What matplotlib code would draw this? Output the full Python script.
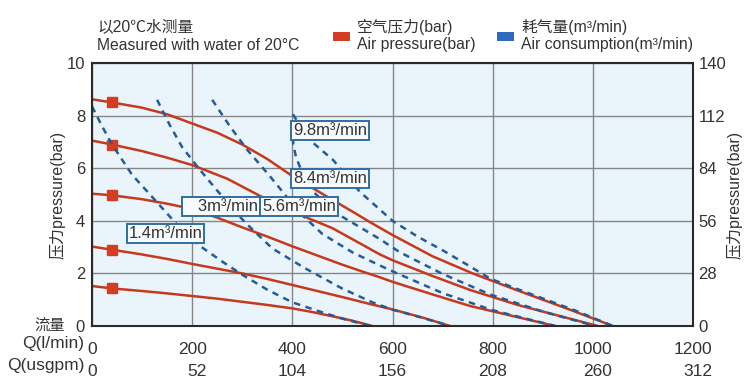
import matplotlib
matplotlib.use("Agg")
import matplotlib.pyplot as plt
from matplotlib.patches import Rectangle

plt.rcParams['font.family'] = ['Liberation Sans', 'Noto Sans CJK SC', 'DejaVu Sans']

# ---------------- data ----------------
flow_lmin = [0, 200, 400, 600, 800, 1000, 1200]
flow_usgpm = [0, 52, 104, 156, 208, 260, 312]
pressure_ticks = [0, 2, 4, 6, 8, 10]
right_ticks = [0, 28, 56, 84, 112, 140]

# air pressure curves (solid red)
p86_x = [0, 40, 100, 150, 200, 250, 300, 350, 400, 440, 480, 520, 555, 600, 680, 760, 850, 950, 1040]
p86_y = [8.62, 8.5, 8.3, 8.05, 7.7, 7.35, 6.9, 6.35, 5.7, 5.25, 4.8, 4.35, 3.95, 3.46, 2.65, 2.0, 1.35, 0.65, 0]
p7_x = [0, 40, 100, 150, 200, 270, 335, 400, 480, 575, 600, 680, 755, 850, 930, 1010]
p7_y = [7.05, 6.9, 6.65, 6.4, 6.12, 5.6, 4.95, 4.35, 3.72, 2.72, 2.5, 1.9, 1.37, 0.8, 0.4, 0]
p5_x = [0, 40, 100, 150, 200, 250, 300, 350, 400, 450, 500, 540, 575, 600, 680, 755, 840, 925]
p5_y = [5.03, 4.97, 4.82, 4.65, 4.45, 4.12, 3.75, 3.4, 3.03, 2.68, 2.33, 2.07, 1.85, 1.68, 1.2, 0.76, 0.38, 0]
p3_x = [0, 40, 100, 150, 200, 250, 300, 350, 400, 450, 500, 550, 600, 660, 715]
p3_y = [3.02, 2.9, 2.72, 2.55, 2.36, 2.18, 2.0, 1.79, 1.56, 1.33, 1.1, 0.86, 0.63, 0.32, 0]
p15_x = [0, 40, 100, 150, 200, 250, 300, 350, 400, 440, 480, 520, 560]
p15_y = [1.52, 1.43, 1.33, 1.24, 1.14, 1.04, 0.92, 0.8, 0.67, 0.53, 0.37, 0.2, 0]

# air consumption curves (dashed blue)
c14_x = [0, 20, 40, 80, 130, 170, 215, 260, 300, 350, 400, 450, 500, 555]
c14_y = [8.35, 7.6, 6.9, 5.75, 4.7, 3.85, 3.05, 2.45, 1.95, 1.38, 0.9, 0.58, 0.28, 0]
c3_x = [130, 155, 180, 215, 250, 305, 360, 425, 500, 560, 600, 660, 715]
c3_y = [8.6, 7.65, 6.8, 5.95, 5.15, 3.95, 2.95, 2.2, 1.42, 0.9, 0.62, 0.31, 0]
c56_x = [240, 275, 310, 355, 385, 415, 460, 520, 575, 600, 700, 800, 925]
c56_y = [8.6, 7.6, 6.7, 5.7, 5.0, 4.3, 3.5, 2.8, 2.3, 2.08, 1.25, 0.6, 0]
c84_x = [399, 402, 407, 414, 425, 442, 470, 500, 540, 575, 615, 700, 795, 900, 1005]
c84_y = [7.6, 6.9, 6.45, 6.1, 5.7, 5.1, 4.6, 4.15, 3.7, 3.3, 2.8, 1.98, 1.2, 0.55, 0]
c98_x = [401, 420, 435, 482, 535, 600, 650, 700, 750, 795, 850, 900, 970, 1040]
c98_y = [8.05, 7.5, 7.07, 6.3, 5.1, 4.0, 3.4, 2.88, 2.32, 1.8, 1.4, 1.05, 0.55, 0]

consumption_labels = ["9.8m³/min", "8.4m³/min", "5.6m³/min", "   3m³/min", "1.4m³/min"]
label_pos = [(402, 7.45), (402, 5.60), (340, 4.555), (183, 4.555), (73, 3.53)]

RED = '#c8381c'
MRED = '#d43d1f'
BLUE = '#245b9a'
TXT = '#333333'

W, H = 750, 380
def fx(px):
    return px / W
def fy(py):
    return 1 - py / H

fig = plt.figure(figsize=(7.5, 3.8), dpi=100)
fig.patch.set_facecolor('white')
ax = fig.add_axes([fx(92), fy(326), (693 - 92) / W, (326 - 63) / H])
ax.set_facecolor('#eaf5fb')
ax.set_xlim(0, 1200)
ax.set_ylim(0, 10)

# grid
ax.set_xticks(flow_lmin)
ax.set_yticks(pressure_ticks)
ax.grid(True, color='#858585', lw=1.0, zorder=1)
ax.set_axisbelow(True)
for s in ax.spines.values():
    s.set_color('#2a2a2a')
    s.set_linewidth(1.5)
    s.set_zorder(6)
ax.tick_params(length=0, labelsize=12, colors=TXT, pad=5)
ax.set_xticklabels([])

# red curves
reds = [(p86_x, p86_y), (p7_x, p7_y), (p5_x, p5_y), (p3_x, p3_y), (p15_x, p15_y)]
for xs, ys in reds:
    ax.plot(xs, ys, color=RED, lw=1.8, zorder=3, solid_capstyle='butt')
    ax.plot(xs[1], ys[1], marker='s', ms=6.5, color=MRED, mec=MRED, zorder=4, linestyle='none')

# dashed curves
blues = [(c14_x, c14_y), (c3_x, c3_y), (c56_x, c56_y), (c84_x, c84_y), (c98_x, c98_y)]
for xs, ys in blues:
    ax.plot(xs, ys, color=BLUE, lw=1.8, linestyle=(0, (2.6, 2.2)), zorder=4)

# labels in boxes
for txt, (lx, ly) in zip(consumption_labels, label_pos):
    ax.text(lx, ly, txt, ha='left', va='center', fontsize=12, color=TXT, zorder=7,
            bbox=dict(boxstyle='square,pad=0.12', fc='#f7fbfe', ec='#2f6ea5', lw=1.4))

# x tick labels (two rows)
for a, b in zip(flow_lmin, flow_usgpm):
    ax.text(a, -0.06, f"{a}\n{b}", transform=ax.get_xaxis_transform(), ha='center', va='top',
            multialignment='right', fontsize=12.5, color=TXT, linespacing=1.62)
fig.text(fx(84), fy(326 + 10), "Q(l/min)\nQ(usgpm)", ha='right', va='top', multialignment='right',
         fontsize=12.5, color=TXT, linespacing=1.62)

# left label
ax.set_ylabel("压力pressure(bar)", fontsize=11.5, color=TXT, labelpad=0.5)
fig.text(fx(65), fy(326), "流量", ha='right', va='center', fontsize=11, color=TXT)

# right axis
ax2 = ax.twinx()
ax2.set_ylim(0, 140)
ax2.set_yticks(right_ticks)
ax2.tick_params(length=0, labelsize=12, colors=TXT, pad=4)
for s in ax2.spines.values():
    s.set_visible(False)
ax2.set_ylabel("压力pressure(bar)", fontsize=11.5, color=TXT, labelpad=0)

# header
fig.text(fx(97), fy(27), "以20℃水测量", ha='left', va='center', fontsize=11.3, color=TXT)
fig.text(fx(97), fy(45), "Measured with water of 20°C", ha='left', va='center', fontsize=11.3, color=TXT)
fig.patches.append(Rectangle((fx(333), fy(41)), 17 / W, 9 / H, transform=fig.transFigure,
                             fc=MRED, ec='none'))
fig.patches.append(Rectangle((fx(497), fy(41)), 17 / W, 9 / H, transform=fig.transFigure,
                             fc='#2a6cc0', ec='none'))
fig.text(fx(357), fy(27), "空气压力(bar)", ha='left', va='center', fontsize=11.3, color=TXT)
fig.text(fx(357), fy(45), "Air pressure(bar)", ha='left', va='center', fontsize=11.3, color=TXT)
fig.text(fx(521), fy(27), "耗气量(m³/min)", ha='left', va='center', fontsize=11.3, color=TXT)
fig.text(fx(521), fy(45), "Air consumption(m³/min)", ha='left', va='center', fontsize=11.3, color=TXT)

fig.savefig("out.png", dpi=100)
